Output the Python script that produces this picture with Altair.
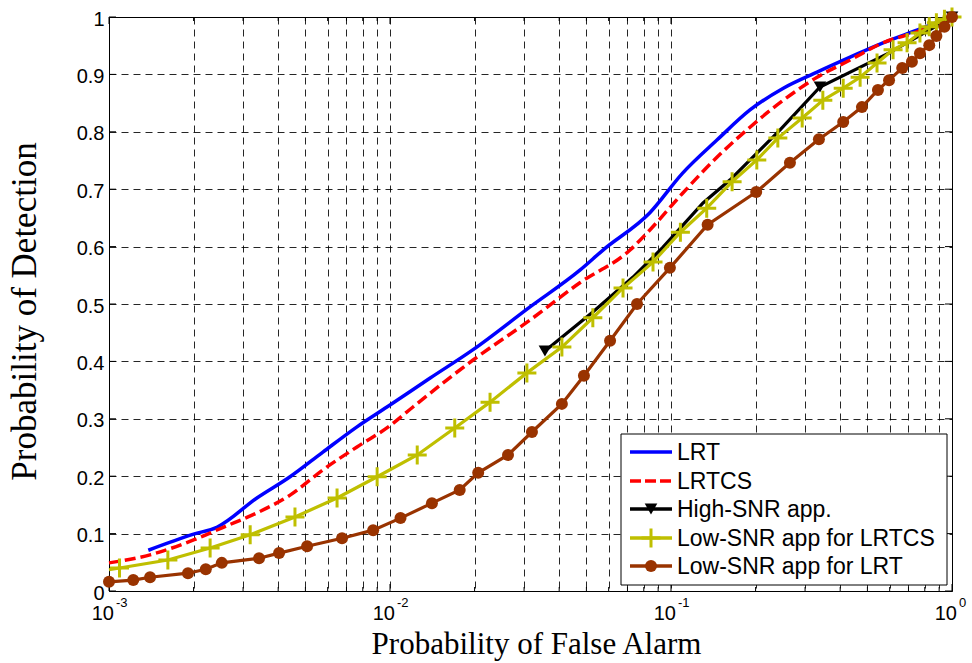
import altair as alt
import pandas as pd

# ---- series values (Pfa on a log axis, Pd linear) ----
series_names = ["LRT", "LRTCS", "High-SNR app.", "Low-SNR app for LRTCS", "Low-SNR app for LRT"]

pfa_lrt = [0.00138, 0.0020, 0.00242, 0.00336, 0.00441, 0.00577, 0.00763, 0.0100, 0.0139,
           0.0197, 0.0315, 0.0474, 0.0573, 0.0841, 0.110, 0.146, 0.191, 0.251, 0.331,
           0.434, 0.568, 0.750, 1.0]
pd_lrt = [0.071, 0.099, 0.111, 0.162, 0.199, 0.242, 0.286, 0.324, 0.371,
          0.420, 0.495, 0.559, 0.594, 0.659, 0.728, 0.786, 0.838, 0.876, 0.904,
          0.930, 0.955, 0.977, 1.0]

pfa_lrtcs = [0.001, 0.0014, 0.0020, 0.00255, 0.00336, 0.00441, 0.00577, 0.00763, 0.0100,
             0.0121, 0.0197, 0.0315, 0.0474, 0.0715, 0.0841, 0.110, 0.146, 0.191, 0.251,
             0.331, 0.434, 0.568, 0.750, 1.0]
pd_lrtcs = [0.049, 0.063, 0.089, 0.111, 0.136, 0.167, 0.211, 0.251, 0.288,
            0.321, 0.402, 0.472, 0.537, 0.594, 0.629, 0.693, 0.756, 0.808, 0.855,
            0.895, 0.925, 0.955, 0.974, 1.0]

pfa_high = [0.0356, 0.0527, 0.0733, 0.0937, 0.130, 0.162, 0.244, 0.339, 0.60, 1.0]
pd_high = [0.418, 0.486, 0.547, 0.599, 0.676, 0.716, 0.803, 0.878, 0.938, 1.0]
mark_high = [True, False, False, False, False, False, False, True, False, True]

pfa_lowcs = [0.001, 0.00109, 0.00162, 0.00229, 0.00318, 0.00459, 0.00648, 0.0090, 0.0125,
             0.0170, 0.0227, 0.0307, 0.0409, 0.0527, 0.0675, 0.0863, 0.108, 0.134, 0.165,
             0.202, 0.240, 0.293, 0.347, 0.410, 0.471, 0.541, 0.617, 0.692, 0.769, 0.83,
             0.88, 0.94, 1.0]
pd_lowcs = [0.037, 0.040, 0.054, 0.075, 0.098, 0.129, 0.162, 0.199, 0.237,
            0.284, 0.329, 0.380, 0.425, 0.476, 0.528, 0.573, 0.625, 0.667, 0.713,
            0.751, 0.789, 0.824, 0.855, 0.876, 0.895, 0.920, 0.943, 0.955, 0.972, 0.983,
            0.990, 0.996, 1.0]
mark_lowcs = [False] + [True] * (len(pfa_lowcs) - 1)

pfa_lowlrt = [0.0010, 0.00122, 0.00140, 0.00191, 0.00221, 0.00252, 0.00342, 0.00403, 0.00507,
              0.00675, 0.00871, 0.0109, 0.0141, 0.0177, 0.0206, 0.0263, 0.0320, 0.0409,
              0.0490, 0.0607, 0.0757, 0.0991, 0.135, 0.201, 0.265, 0.336, 0.410, 0.478,
              0.545, 0.597, 0.665, 0.720, 0.769, 0.83, 0.88, 0.94, 1.0]
pd_lowlrt = [0.016, 0.019, 0.024, 0.031, 0.038, 0.049, 0.057, 0.066, 0.078,
             0.092, 0.106, 0.127, 0.153, 0.176, 0.206, 0.237, 0.277, 0.326,
             0.375, 0.436, 0.500, 0.563, 0.638, 0.695, 0.746, 0.787, 0.817, 0.843,
             0.873, 0.890, 0.911, 0.922, 0.937, 0.951, 0.967, 0.983, 1.0]

# ---- axis tick values and labels ----
x_major = [0.001, 0.01, 0.1, 1.0]
x_exponents = ["-3", "-2", "-1", "0"]
x_minor = [m * 10.0 ** e for e in (-3, -2, -1) for m in range(2, 10)]
x_grid = sorted(x_major + x_minor)
y_ticks = [round(i * 0.1, 1) for i in range(11)]

W, H = 843, 574
BLUE, RED, BLACK, OLIVE, BROWN = "#0000FF", "#FF0000", "#000000", "#BFBF00", "#993300"
PLUS = "M-1,0L1,0M0,-1L0,1"
SANS = "Liberation Sans"
SERIF = "Liberation Serif"

xscale = alt.Scale(type="log", domain=[0.001, 1.0], nice=False)
yscale = alt.Scale(domain=[0, 1], nice=False, zero=False)

grid_style = dict(grid=True, gridColor="#000000", gridDash=[7, 5], gridWidth=1,
                  gridOpacity=0.85, ticks=False, tickSize=0, domain=False)

X = alt.X("pfa:Q", scale=xscale, axis=alt.Axis(
    values=x_grid, labels=False, title="Probability of False Alarm",
    titleFont=SERIF, titleFontSize=31, titleFontWeight="normal", titleColor="black",
    titleX=427, titleY=62, titleBaseline="alphabetic", titleAlign="center",
    **grid_style))
Y = alt.Y("pd:Q", scale=yscale, axis=alt.Axis(
    values=y_ticks, format=".1~f", labelFont=SANS, labelFontSize=20, labelColor="black",
    labelPadding=5, labelOffset=2, title="Probability of Detection",
    titleFont=SERIF, titleFontSize=35, titleFontWeight="normal", titleColor="black",
    titleAngle=270, titleX=-74, titleY=294, titleBaseline="alphabetic", titleAlign="center",
    **grid_style))


def curve(pfa, pdv, color, width=3.2, dash=None, interp="linear"):
    df = pd.DataFrame({"pfa": pfa, "pd": pdv})
    kw = dict(color=color, strokeWidth=width, clip=False, interpolate=interp)
    if dash:
        kw["strokeDash"] = dash
    return alt.Chart(df).mark_line(**kw).encode(x=X, y=Y, order="pfa:Q")


def markers(pfa, pdv, flags, **mark_kw):
    df = pd.DataFrame({"pfa": pfa, "pd": pdv, "m": flags})
    df = df[df["m"]]
    return alt.Chart(df).mark_point(opacity=1, clip=False, **mark_kw).encode(x=X, y=Y)


layers = []

# inward box ticks on all four sides
xt_major = pd.DataFrame({"pfa": x_major})
xt_minor = pd.DataFrame({"pfa": x_minor})
for frame, ln in ((xt_major, 7), (xt_minor, 4)):
    layers.append(alt.Chart(frame).mark_rule(color="black", strokeWidth=1).encode(
        x=X, y=alt.value(H), y2=alt.value(H - ln)))
    layers.append(alt.Chart(frame).mark_rule(color="black", strokeWidth=1).encode(
        x=X, y=alt.value(0), y2=alt.value(ln)))
yt = pd.DataFrame({"pd": y_ticks})
layers.append(alt.Chart(yt).mark_rule(color="black", strokeWidth=1).encode(
    y=Y, x=alt.value(0), x2=alt.value(7)))
layers.append(alt.Chart(yt).mark_rule(color="black", strokeWidth=1).encode(
    y=Y, x=alt.value(W - 7), x2=alt.value(W)))

# x tick labels written as 10 with a raised exponent
xl = pd.DataFrame({"pfa": x_major, "base": ["10"] * 4, "exp": x_exponents})
layers.append(alt.Chart(xl).mark_text(font=SANS, fontSize=20, align="right",
                                      baseline="alphabetic", dx=5, color="black").encode(
    x=X, y=alt.value(H + 29), text="base:N"))
layers.append(alt.Chart(xl).mark_text(font=SANS, fontSize=13, align="left",
                                      baseline="alphabetic", dx=7, color="black").encode(
    x=X, y=alt.value(H + 16), text="exp:N"))

# the five ROC curves
layers.append(curve(pfa_lrt, pd_lrt, BLUE, 3.5, interp="monotone"))
layers.append(curve(pfa_lrtcs, pd_lrtcs, RED, 3.5, [11, 5], interp="monotone"))
layers.append(curve(pfa_high, pd_high, BLACK, 3.2))
layers.append(markers(pfa_high, pd_high, mark_high, shape="triangle-down", filled=True,
                      size=160, color=BLACK))
layers.append(curve(pfa_lowcs, pd_lowcs, OLIVE, 3.2))
layers.append(markers(pfa_lowcs, pd_lowcs, mark_lowcs, shape=PLUS, filled=False,
                      size=361, strokeWidth=3, color=OLIVE))
layers.append(curve(pfa_lowlrt, pd_lowlrt, BROWN, 3.2))
layers.append(markers(pfa_lowlrt, pd_lowlrt, [True] * len(pfa_lowlrt), shape="circle",
                      filled=True, size=144, color=BROWN))

# legend box
one = pd.DataFrame({"k": [0]})
LX0, LX1, LY0, LY1 = 512, 838, 417, 568
rows = [435, 464, 492, 521, 549]
layers.append(alt.Chart(one).mark_rect(fill="white", stroke="black", strokeWidth=1).encode(
    x=alt.value(LX0), x2=alt.value(LX1), y=alt.value(LY0), y2=alt.value(LY1)))
styles = [
    (BLUE, None, None),
    (RED, [11, 4], None),
    (BLACK, None, dict(shape="triangle-down", filled=True, size=160, color=BLACK)),
    (OLIVE, None, dict(shape=PLUS, filled=False, size=361, strokeWidth=3, color=OLIVE)),
    (BROWN, None, dict(shape="circle", filled=True, size=144, color=BROWN)),
]
for name, ry, (col, dash, mk) in zip(series_names, rows, styles):
    rule_kw = dict(color=col, strokeWidth=3.5)
    if dash:
        rule_kw["strokeDash"] = dash
    layers.append(alt.Chart(one).mark_rule(**rule_kw).encode(
        x=alt.value(521), x2=alt.value(563), y=alt.value(ry)))
    if mk:
        layers.append(alt.Chart(one).mark_point(opacity=1, **mk).encode(
            x=alt.value(542), y=alt.value(ry)))
    layers.append(alt.Chart(pd.DataFrame({"label": [name]})).mark_text(
        font=SANS, fontSize=23, align="left", baseline="middle", color="black").encode(
        x=alt.value(568), y=alt.value(ry + 1), text="label:N"))

chart = alt.layer(*layers).properties(
    width=W, height=H,
    autosize=alt.AutoSizeParams(type="none"),
    padding={"left": 109, "top": 17, "right": 20, "bottom": 72},
    background="white",
).configure_view(stroke="black", strokeWidth=1)

chart.save("out.html", embed_options={"renderer": "svg", "actions": False})
